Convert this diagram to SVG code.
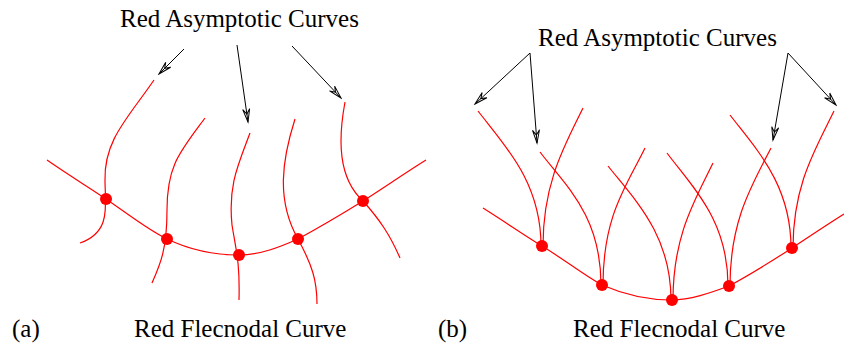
<svg xmlns="http://www.w3.org/2000/svg" width="844" height="348" viewBox="0 0 844 348">
<style>
.lbl{font-family:"Liberation Serif","Times New Roman",serif;font-size:25px;fill:#000}
.arr{stroke:#000;stroke-width:1;fill:none;marker-end:url(#ah)}
.rc{stroke:#ff0000;stroke-width:1.2;fill:none}
.dot{fill:#ff0000}
</style>
<defs>
<marker id="ah" viewBox="-14 -6 16 12" refX="0" refY="0" markerWidth="16" markerHeight="12" markerUnits="userSpaceOnUse" orient="auto">
<path d="M0,0 L-13,-3.5 L-8,0 L-13,3.5 Z" fill="none" stroke="#000" stroke-width="1"/>
</marker>
</defs>
<rect width="844" height="348" fill="#fff"/>
<g id="panel-a">
<g id="a-labels">
<text class="lbl" x="120" y="27">Red Asymptotic Curves</text>
<text class="lbl" x="12" y="337">(a)</text>
<text class="lbl" x="134" y="337">Red Flecnodal Curve</text>
</g>
<g id="a-connectors">
<path class="arr" d="M184,49 L159,74"/>
<path class="arr" d="M237,45 L248,122"/>
<path class="arr" d="M292,46 L341,98"/>
</g>
<g id="a-flecnodal">
<path class="rc" d="M47,160 C70,176 90,188 106,199 C128,214 148,230 167,239 C190,250 215,255 239,255 C260,255 280,247 298,239 C320,227 342,214 363,201 C385,187 405,173 426,160"/>
</g>
<g id="a-asymptotic">
<path class="rc" d="M154,80 C128,118 104,140 105,180 C105,205 112,232 80,243"/>
<path class="rc" d="M205,118 C180,152 167,165 167,210 C167,250 160,265 152,283"/>
<path class="rc" d="M250,133 C238,165 228,185 232,225 C236,250 240,262 239,300"/>
<path class="rc" d="M295,119 C282,160 276,200 298,239 C312,265 317,280 317,304"/>
<path class="rc" d="M345,102 C338,140 338,178 363,201 C380,220 390,235 400,258"/>
</g>
<g id="a-dots">
<circle class="dot" cx="106" cy="199" r="6"/>
<circle class="dot" cx="167" cy="239" r="6"/>
<circle class="dot" cx="239" cy="255" r="6"/>
<circle class="dot" cx="298" cy="239" r="6"/>
<circle class="dot" cx="363" cy="201" r="6"/>
</g>
</g>
<g id="panel-b">
<g id="b-labels">
<text class="lbl" x="538" y="46">Red Asymptotic Curves</text>
<text class="lbl" x="438" y="337">(b)</text>
<text class="lbl" x="573" y="337">Red Flecnodal Curve</text>
</g>
<g id="b-connectors">
<path class="arr" d="M530,53 L475,104"/>
<path class="arr" d="M530,53 L537,143"/>
<path class="arr" d="M788,53 L773,140"/>
<path class="arr" d="M788,53 L836,105"/>
</g>
<g id="b-flecnodal">
<path class="rc" d="M483,208 C510,225 525,236 542,246 C565,260 585,276 602,285 C625,295 650,300 672,300 C690,300 710,293 729,286 C755,272 775,259 792,248 C810,236 828,224 844,214"/>
</g>
<g id="b-asymptotic">
<path class="rc" d="M478,111 C505,146 541,182 541,246"/>
<path class="rc" d="M583,108 C565,145 543,182 543,246"/>
<path class="rc" d="M540,152 C565,185 601,215 601,285"/>
<path class="rc" d="M645,148 C627,185 603,215 603,285"/>
<path class="rc" d="M608,166 C635,200 671,235 671,300"/>
<path class="rc" d="M713,163 C695,200 673,235 673,300"/>
<path class="rc" d="M667,153 C693,188 728,220 728,286"/>
<path class="rc" d="M771,148 C752,185 730,220 730,286"/>
<path class="rc" d="M730,115 C757,150 791,185 791,248"/>
<path class="rc" d="M834,111 C815,150 793,185 793,248"/>
</g>
<g id="b-dots">
<circle class="dot" cx="542" cy="246" r="6"/>
<circle class="dot" cx="602" cy="285" r="6"/>
<circle class="dot" cx="672" cy="300" r="6"/>
<circle class="dot" cx="729" cy="286" r="6"/>
<circle class="dot" cx="792" cy="248" r="6"/>
</g>
</g>
</svg>
